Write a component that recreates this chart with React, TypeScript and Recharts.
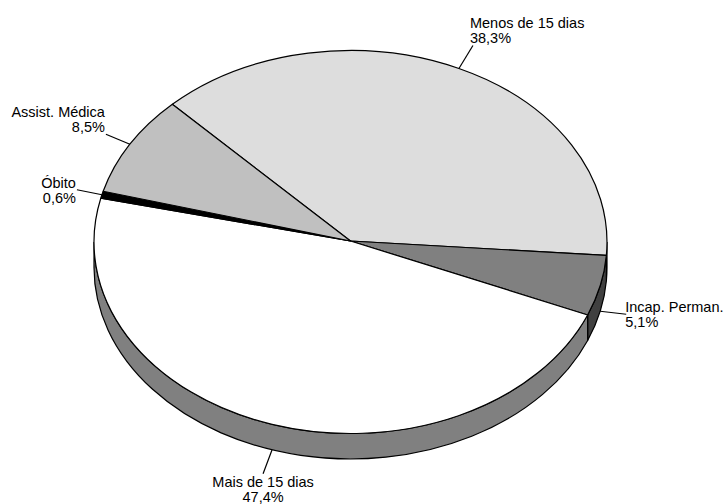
import React from "react";
import { PieChart, Pie } from "recharts";

const names = ["Menos de 15 dias", "Incap. Perman.", "Mais de 15 dias", "Óbito", "Assist. Médica"];
const values = [38.3, 5.1, 47.4, 0.6, 8.5];

// tampo e parede lateral de cada fatia
const topColors = ["#dddddd", "#808080", "#ffffff", "#000000", "#c0c0c0"];
const wallColors = ["#6e6e6e", "#404040", "#808080", "#000000", "#606060"];

const data = names.map((name, i) => ({
  name,
  value: values[i],
  top: topColors[i],
  wall: wallColors[i],
}));

const RX = 256.5;
const RY = 191.5;
const DEPTH = 25.5;
const RAD = Math.PI / 180;

const px = (cx: number, a: number) => cx + RX * Math.cos(a * RAD);
const py = (cy: number, a: number) => cy - RY * Math.sin(a * RAD);

// Pie is laid out by recharts as a circle, here it gets squashed to the ellipse
function EllipseSector(props: any) {
  const { cx, cy, startAngle, endAngle, payload } = props;
  const large = Math.abs(endAngle - startAngle) > 180 ? 1 : 0;
  const top = `M${cx},${cy - 1} L${px(cx, startAngle)},${py(cy, startAngle)} A${RX},${RY} 0 ${large} 1 ${px(cx, endAngle)},${py(cy, endAngle)} Z`;

  // only the front half of the rim is visible
  const a = Math.min(startAngle, 0);
  const b = Math.max(endAngle, -180);
  let wall = null;
  if (a > b) {
    const d = `M${px(cx, a)},${py(cy, a)} A${RX},${RY} 0 0 1 ${px(cx, b)},${py(cy, b)} L${px(cx, b)},${py(cy, b) + DEPTH} A${RX},${RY} 0 0 0 ${px(cx, a)},${py(cy, a) + DEPTH} Z`;
    wall = <path d={d} fill={payload.wall ?? props.wall} stroke="#000" strokeWidth={1.2} />;
  }
  return (
    <g>
      {wall}
      <path d={top} fill={payload.top ?? props.top} stroke="#000" strokeWidth={1.2} strokeLinejoin="round" />
    </g>
  );
}

// fim do traco e alinhamento do texto de cada rotulo
const leaderEnds = [
  { dx: 14, dy: -23, anchor: "start", tx: -3, ty: -17.5 },
  { dx: 26, dy: 3, anchor: "start", tx: -1, ty: -2 },
  { dx: -9, dy: 24, anchor: "middle", tx: 0, ty: 13.5 },
  { dx: -25, dy: -5, anchor: "end", tx: -1, ty: -1.5 },
  { dx: -24, dy: -10, anchor: "end", tx: -1, ty: -17 },
];

function renderLabel(props: any) {
  const { cx, cy, midAngle, index } = props;
  const row = data[index];
  const end = leaderEnds[index];
  const inFront = Math.sin(midAngle * RAD) < 0;
  const x0 = px(cx, midAngle);
  const y0 = py(cy, midAngle) + (inFront ? DEPTH : 0);
  const x1 = x0 + end.dx;
  const y1 = y0 + end.dy;
  const tx = x1 + end.tx;
  const ty = y1 + end.ty;
  return (
    <g key={row.name}>
      <line x1={x0} y1={y0} x2={x1} y2={y1} stroke="#000" strokeWidth={1.2} />
      <text x={tx} y={ty} textAnchor={end.anchor as any} fontFamily="Liberation Sans" fontSize={14.5} fill="#000">
        {row.name}
      </text>
      <text x={tx} y={ty + 15} textAnchor={end.anchor as any} fontFamily="Liberation Sans" fontSize={14.5} fill="#000">
        {row.value.toFixed(1).replace(".", ",")}%
      </text>
    </g>
  );
}

export default function App() {
  return (
    <div style={{ position: "absolute", left: 0, top: 0, width: 726, height: 504, background: "#fff" }}>
      <PieChart width={726} height={504} margin={{ top: 0, right: 0, bottom: 0, left: 0 }}>
        <Pie
          data={data}
          dataKey="value"
          nameKey="name"
          cx={350.5}
          cy={242}
          innerRadius={0}
          outerRadius={RX}
          startAngle={134}
          endAngle={-226}
          shape={EllipseSector}
          label={renderLabel}
          labelLine={false}
          isAnimationActive={false}
        />
      </PieChart>
    </div>
  );
}
